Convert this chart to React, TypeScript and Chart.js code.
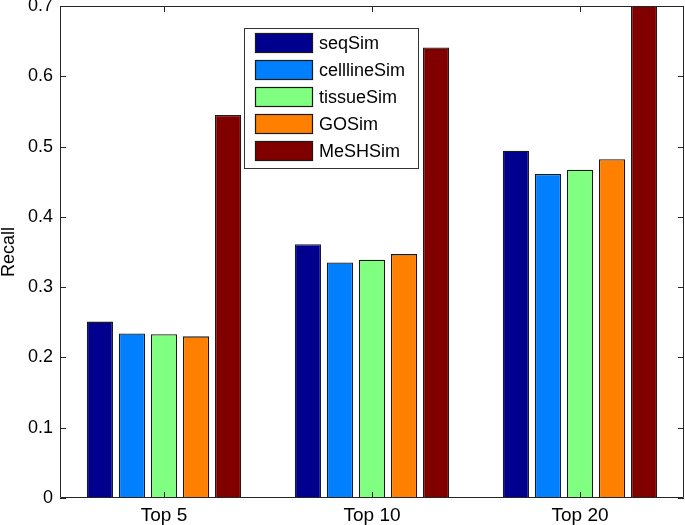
import React, { useEffect, useRef } from "react";
import { Chart, registerables } from "chart.js";

Chart.register(...registerables);

const categories = ["Top 5", "Top 10", "Top 20"];
const seriesNames = ["seqSim", "celllineSim", "tissueSim", "GOSim", "MeSHSim"];
const seqSim = [0.251, 0.361, 0.494];
const celllineSim = [0.234, 0.335, 0.461];
const tissueSim = [0.233, 0.339, 0.467];
const GOSim = [0.230, 0.347, 0.482];
const MeSHSim = [0.545, 0.641, 0.73];
const seriesColors = ["#00008F", "#0080FF", "#80FF80", "#FF8000", "#800000"];
const yTicks = [0, 0.1, 0.2, 0.3, 0.4, 0.5, 0.6, 0.7];

const FONT = "'Liberation Sans', Arial, Helvetica, sans-serif";

const framePlugin = {
  id: "matlabFrame",
  afterDraw(chart: any) {
    const { ctx, chartArea } = chart;
    const { left, right, top, bottom } = chartArea;
    const xs = chart.scales.x;
    const ys = chart.scales.y;
    ctx.save();
    ctx.strokeStyle = "#262626";
    ctx.lineWidth = 1;
    ctx.beginPath();
    ctx.rect(left + 0.5, top + 0.5, right - left - 1, bottom - top - 1);
    ctx.stroke();
    ctx.beginPath();
    const tl = 6;
    yTicks.forEach((v) => {
      const y = Math.round(ys.getPixelForValue(v)) + 0.5;
      ctx.moveTo(left, y);
      ctx.lineTo(left + tl, y);
      ctx.moveTo(right, y);
      ctx.lineTo(right - tl, y);
    });
    categories.forEach((_, i) => {
      const x = Math.round(xs.getPixelForTick(i)) + 0.5;
      ctx.moveTo(x, top);
      ctx.lineTo(x, top + tl);
      ctx.moveTo(x, bottom);
      ctx.lineTo(x, bottom - tl);
    });
    ctx.stroke();

    // legend box
    const lx = 244, ly = 28, lw = 174, lh = 140;
    ctx.fillStyle = "#ffffff";
    ctx.fillRect(lx, ly, lw, lh);
    ctx.strokeStyle = "#333333";
    ctx.strokeRect(lx + 0.5, ly + 0.5, lw, lh);
    ctx.font = "18px " + FONT;
    ctx.textBaseline = "middle";
    ctx.textAlign = "left";
    chart.data.datasets.forEach((ds: any, i: number) => {
      const sy = 33 + i * 27;
      ctx.fillStyle = ds.backgroundColor;
      ctx.fillRect(255, sy, 58, 20);
      ctx.strokeStyle = "#1a1a1a";
      ctx.lineWidth = 1.2;
      ctx.strokeRect(255.5, sy + 0.5, 57, 19);
      ctx.fillStyle = "#000000";
      ctx.fillText(ds.label, 319, sy + 11);
    });
    ctx.restore();
  },
};

export default function App() {
  const ref = useRef<HTMLCanvasElement | null>(null);
  useEffect(() => {
    document.body.style.margin = "0";
    const values = [seqSim, celllineSim, tissueSim, GOSim, MeSHSim];
    const chart = new Chart(ref.current as HTMLCanvasElement, {
      type: "bar",
      data: {
        labels: categories,
        datasets: seriesNames.map((name, i) => ({
          label: name,
          data: values[i],
          backgroundColor: seriesColors[i],
          borderColor: "#1a1a1a",
          borderWidth: 1.3,
          borderSkipped: "start",
          categoryPercentage: 0.77,
          barPercentage: 0.82,
        })),
      },
      options: {
        responsive: false,
        devicePixelRatio: 1,
        animation: false,
        layout: { padding: { top: 6, right: 1, left: 0, bottom: 0 } },
        plugins: {
          legend: { display: false },
          tooltip: { enabled: false },
        },
        scales: {
          x: {
            grid: { display: false, drawTicks: false },
            border: { display: false },
            ticks: {
              color: "#000",
              font: { size: 19, family: FONT },
              padding: 6,
            },
            afterFit: (s: any) => {
              s.height = 27;
              s.paddingLeft = 0;
              s.paddingRight = 0;
            },
          },
          y: {
            min: 0,
            max: 0.7,
            grid: { display: false, drawTicks: false },
            border: { display: false },
            ticks: {
              stepSize: 0.1,
              color: "#000",
              font: { size: 18, family: FONT },
              padding: 7,
              callback: (v: any) => (Number(v) === 0 ? "0" : Number(v).toFixed(1)),
            },
            title: {
              display: true,
              text: "Recall",
              color: "#000",
              font: { size: 18, family: FONT, lineHeight: 1 },
              padding: { top: 0, bottom: 0 },
            },
            afterFit: (s: any) => {
              s.width = 60;
              s.paddingTop = 0;
              s.paddingBottom = 0;
            },
          },
        },
      },
      plugins: [framePlugin],
    } as any);
    return () => chart.destroy();
  }, []);
  return (
    <div style={{ position: "absolute", left: 0, top: 0, width: 685, height: 525, background: "#fff" }}>
      <canvas ref={ref} width={685} height={525} />
    </div>
  );
}
